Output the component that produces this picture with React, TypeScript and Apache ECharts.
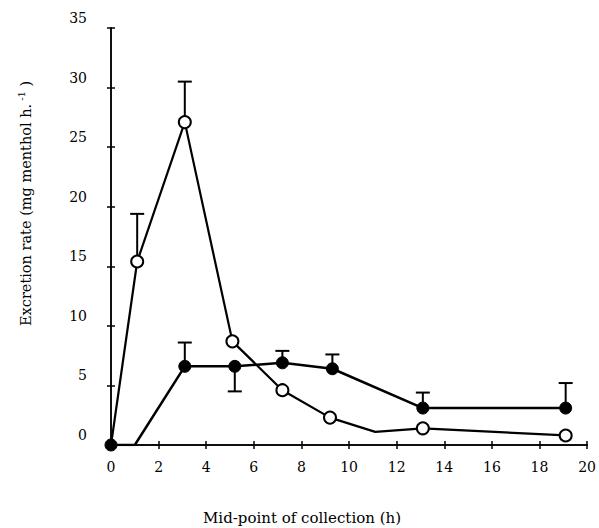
import React, { useEffect, useRef } from "react";
import * as echarts from "echarts";

// Open circles [time h, excretion rate]
const openX = [0, 1.1, 3.1, 5.1, 7.2, 9.2, 11.1, 13.1, 19.1];
const openY = [0, 15.4, 27.1, 8.7, 4.6, 2.3, 1.1, 1.4, 0.8];
const openMarker = [false, true, true, true, true, true, false, true, true];

// Filled circles
const filledX = [0, 1.0, 3.1, 5.2, 7.2, 9.3, 13.1, 19.1];
const filledY = [0, 0, 6.6, 6.6, 6.9, 6.4, 3.1, 3.1];
const filledMarker = [true, false, true, true, true, true, true, true];

// Error bars: [x, y, end]
const openErrX = [1.1, 3.1];
const openErrY = [15.4, 27.1];
const openErrEnd = [19.4, 30.5];
const filledErrX = [3.1, 5.2, 7.2, 9.3, 13.1, 19.1];
const filledErrY = [6.6, 6.6, 6.9, 6.4, 3.1, 3.1];
const filledErrEnd = [8.6, 4.5, 7.9, 7.6, 4.4, 5.2];

const xTicks = { min: 0, max: 20, interval: 2 };
const yTicks = { min: 0, max: 35, interval: 5 };

const xTitle = "Mid-point of collection (h)";
const yTitleMain = "Excretion rate (mg menthol h.";
const yTitleSup = "-1";
const yTitleEnd = " )";

const FONT = "DejaVu Serif";

export default function App() {
  const ref = useRef<HTMLDivElement>(null);
  useEffect(() => {
    if (!ref.current) return;
    const chart = echarts.init(ref.current, null, { renderer: "svg" });

    const openData = openX.map((x, i) =>
      openMarker[i] ? [x, openY[i]] : { value: [x, openY[i]], symbol: "none" }
    );
    const filledData = filledX.map((x, i) =>
      filledMarker[i] ? [x, filledY[i]] : { value: [x, filledY[i]], symbol: "none" }
    );
    const errData = [
      ...openErrX.map((x, i) => [x, openErrY[i], openErrEnd[i]]),
      ...filledErrX.map((x, i) => [x, filledErrY[i], filledErrEnd[i]]),
    ];

    const axisCommon = {
      axisLine: { show: true, lineStyle: { color: "#000", width: 1.5 } },
      splitLine: { show: false },
    };

    chart.setOption({
      animation: false,
      backgroundColor: "#fff",
      grid: { left: 111, right: 7, top: 28, bottom: 83 },
      xAxis: [
        {
          type: "value",
          ...xTicks,
          ...axisCommon,
          axisTick: { show: true, inside: false, length: 4, lineStyle: { color: "#000", width: 1.5 } },
          axisLabel: { color: "#000", fontFamily: FONT, fontSize: 14, margin: 15 },
        },
        {
          type: "value",
          position: "bottom",
          ...xTicks,
          ...axisCommon,
          axisTick: { show: true, inside: true, length: 4, lineStyle: { color: "#000", width: 1.5 } },
          axisLabel: { show: false },
        },
      ],
      yAxis: [
        {
          type: "value",
          ...yTicks,
          ...axisCommon,
          axisTick: { show: true, inside: false, length: 4, lineStyle: { color: "#000", width: 1.5 } },
          axisLabel: {
            color: "#000",
            fontFamily: FONT,
            fontSize: 14,
            margin: 24,
            verticalAlign: "bottom",
            lineHeight: 20,
          },
        },
        {
          type: "value",
          position: "left",
          ...yTicks,
          ...axisCommon,
          axisTick: { show: true, inside: true, length: 4, lineStyle: { color: "#000", width: 1.5 } },
          axisLabel: { show: false },
        },
      ],
      graphic: [
        {
          type: "text",
          left: 203,
          top: 510,
          style: { text: xTitle, font: `15px "${FONT}"`, fill: "#000" },
        },
        {
          type: "text",
          x: 16,
          y: 326,
          rotation: Math.PI / 2,
          style: {
            text: `{a|${yTitleMain}}{s|${yTitleSup}}{a|${yTitleEnd}}`,
            fill: "#000",
            verticalAlign: "top",
            align: "left",
            rich: {
              a: { fontFamily: FONT, fontSize: 14.5, fill: "#000", verticalAlign: "bottom", lineHeight: 17 },
              s: { fontFamily: FONT, fontSize: 10, fill: "#000", verticalAlign: "top", lineHeight: 17, padding: [0, 0, 9, 3] },
            },
          },
        },
      ],
      series: [
        {
          type: "line",
          data: openData,
          symbol: "circle",
          symbolSize: 12,
          showSymbol: true,
          lineStyle: { color: "#000", width: 2.2 },
          itemStyle: { color: "#fff", borderColor: "#000", borderWidth: 2 },
          z: 3,
        },
        {
          type: "line",
          data: filledData,
          symbol: "circle",
          symbolSize: 12,
          lineStyle: { color: "#000", width: 2.5 },
          itemStyle: { color: "#000", borderColor: "#000", borderWidth: 1 },
          z: 4,
        },
        {
          type: "custom",
          data: errData,
          z: 2,
          renderItem: (params: any, api: any) => {
            const x = api.value(0);
            const y0 = api.value(1);
            const y1 = api.value(2);
            const p0 = api.coord([x, y0]);
            const p1 = api.coord([x, y1]);
            const half = 7;
            const style = { stroke: "#000", lineWidth: 2 };
            return {
              type: "group",
              children: [
                { type: "line", shape: { x1: p0[0], y1: p0[1], x2: p1[0], y2: p1[1] }, style },
                { type: "line", shape: { x1: p1[0] - half, y1: p1[1], x2: p1[0] + half, y2: p1[1] }, style },
              ],
            };
          },
        },
      ],
    });
    return () => chart.dispose();
  }, []);
  return (
    <div
      ref={ref}
      style={{ position: "fixed", left: 0, top: 0, width: 599, height: 528 }}
    />
  );
}
